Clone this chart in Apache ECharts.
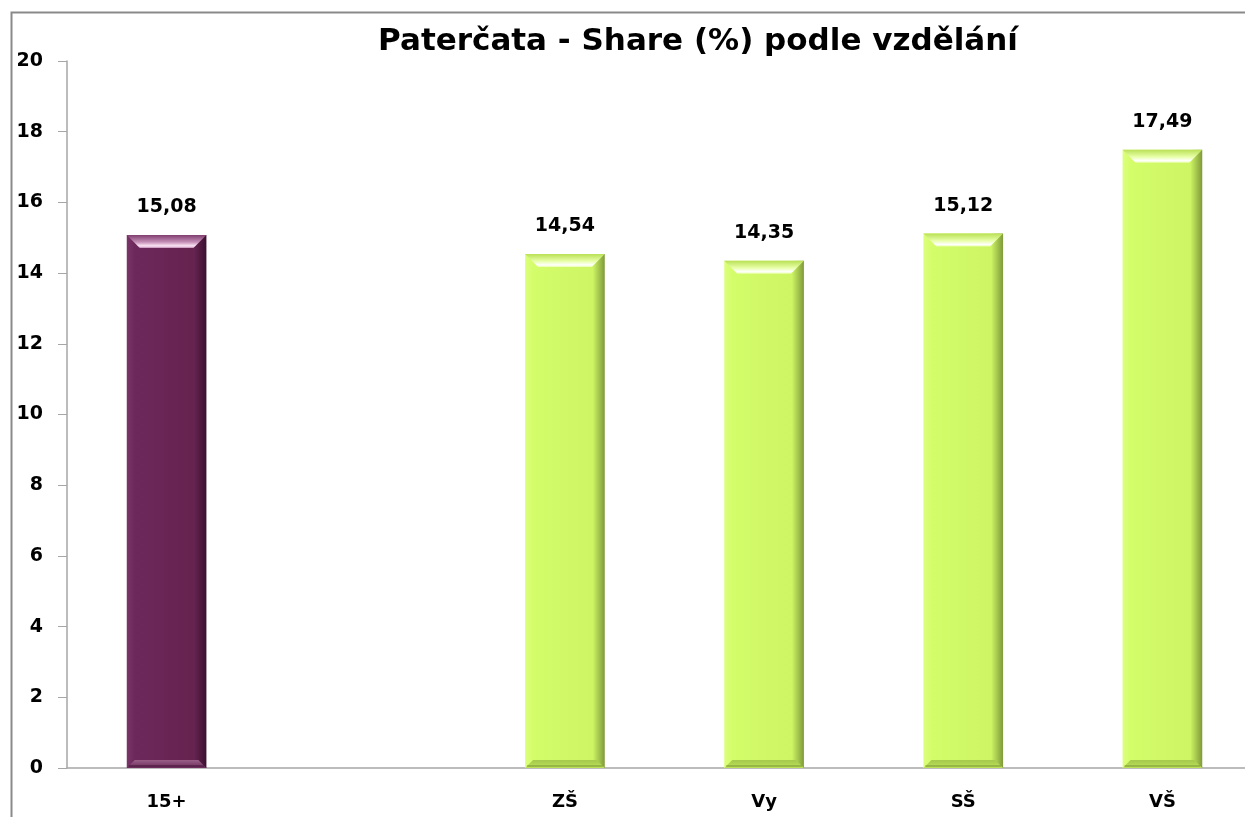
<!DOCTYPE html>
<html>
<head>
<meta charset="utf-8">
<script src="https://cdn.jsdelivr.net/npm/echarts@6/dist/echarts.min.js"></script>
<style>
    html, body { margin: 0; padding: 0; background: #fff; overflow: hidden; }
    /* plot runs past the right edge of the window, as in the original */
    #chart { width: 1262px; height: 817px; }
</style>
</head>
<body>
<div id="chart"></div>
<script>
// data
var categories = ['15+', '', 'ZŠ', 'Vy', 'SŠ', 'VŠ'];
var shareValues = [15.08, null, 14.54, 14.35, 15.12, 17.49];
var yTicks = [0, 2, 4, 6, 8, 10, 12, 14, 16, 18, 20];

// colour sets for the two kinds of bars
var purpleSet = {
    main: ['#7a3469', '#6c285b', '#65234f', '#3a1030'],
    top: ['#7e3c6d', '#c58fb7', '#fde8f6'],
    bottom: ['#6a2a5a', '#9a6088'],
    edge: '#3a1030'
};
var greenSet = {
    main: ['#dcff7c', '#d4fd6a', '#cdf564', '#7f9a3a'],
    top: ['#b9e055', '#e8ffa8', '#ffffff'],
    bottom: ['#bde25a', '#a4c94c'],
    edge: '#6f8a30'
};

function colSet(idx) {
    return idx === 0 ? purpleSet : greenSet;
}

function hGrad(c) {
    return new echarts.graphic.LinearGradient(0, 0, 1, 0, [
        {offset: 0, color: c[0]},
        {offset: 0.1, color: c[1]},
        {offset: 0.85, color: c[2]},
        {offset: 1, color: c[3]}
    ]);
}

var barData = shareValues.map(function (v, i) {
    return {
        value: v,
        itemStyle: {color: hGrad(colSet(i).main)}
    };
});

// bevel drawn over each bar
function renderBevel(params, api) {
    var v = api.value(1);
    if (v == null || isNaN(v)) return;
    var idx = params.dataIndex;
    var cs = colSet(idx);
    var topPt = api.coord([api.value(0), v]);
    var basePt = api.coord([api.value(0), 0]);
    var bw = api.size([1, 0])[0] * 0.4;
    var x = topPt[0] - bw / 2;
    var y = topPt[1];
    var h = basePt[1] - y;
    var b = 13, bb = 8;
    return {
        type: 'group',
        children: [{
            type: 'polygon',
            shape: {points: [[x, y], [x + bw, y], [x + bw - b, y + b], [x + b, y + b]]},
            style: {
                fill: new echarts.graphic.LinearGradient(0, 0, 0, 1, [
                    {offset: 0, color: cs.top[0]},
                    {offset: 0.55, color: cs.top[1]},
                    {offset: 0.85, color: cs.top[2]},
                    {offset: 1, color: cs.top[1]}
                ])
            }
        }, {
            type: 'polygon',
            shape: {points: [[x, y + h], [x + bw, y + h], [x + bw - bb, y + h - bb], [x + bb, y + h - bb]]},
            style: {
                fill: new echarts.graphic.LinearGradient(0, 0, 0, 1, [
                    {offset: 0, color: cs.bottom[1]},
                    {offset: 1, color: cs.bottom[0]}
                ])
            }
        }, {
            type: 'line',
            shape: {x1: x + 2, y1: y + h - 2, x2: x + bw - 2, y2: y + h - 2},
            style: {stroke: cs.edge, lineWidth: 1.5, opacity: 0.6}
        }]
    };
}

var myChart = echarts.init(document.getElementById('chart'));
var option = {
    animation: false,
    title: {
        text: 'Paterčata - Share (%) podle vzdělání',
        left: 693,
        textAlign: 'center',
        top: 21,
        textStyle: {
            fontFamily: 'DejaVu Sans',
            fontWeight: 'bold',
            fontSize: 31,
            color: '#000'
        }
    },
    graphic: [{
        type: 'rect',
        shape: {x: 11.5, y: 12.5, width: 1400, height: 1000},
        style: {fill: 'none', stroke: '#8a8a8a', lineWidth: 2},
        silent: true
    }],
    grid: {
        left: 67,
        right: 0,
        top: 61,
        bottom: 49,
        containLabel: false
    },
    xAxis: {
        type: 'category',
        data: categories,
        axisLine: {lineStyle: {color: '#a6a6a6', width: 1.5}},
        axisTick: {length: 9, lineStyle: {color: '#a6a6a6'}},
        axisLabel: {
            margin: 25,
            fontFamily: 'DejaVu Sans',
            fontWeight: 'bold',
            fontSize: 18,
            color: '#000'
        }
    },
    yAxis: {
        type: 'value',
        min: 0,
        max: 20,
        interval: 2,
        axisLine: {show: true, lineStyle: {color: '#a6a6a6', width: 1.5}},
        axisTick: {show: true, length: 9, lineStyle: {color: '#a6a6a6'}},
        splitLine: {show: false},
        axisLabel: {
            margin: 24,
            fontFamily: 'DejaVu Sans',
            fontWeight: 'bold',
            fontSize: 19,
            color: '#000',
            formatter: function (v) {
                return yTicks.indexOf(v) >= 0 ? String(v) : '';
            }
        }
    },
    series: [{
        type: 'bar',
        barWidth: '40%',
        data: barData,
        label: {
            show: true,
            position: 'top',
            distance: 18,
            fontFamily: 'DejaVu Sans',
            fontWeight: 'bold',
            fontSize: 19,
            color: '#000',
            formatter: function (p) {
                return p.value == null ? '' : p.value.toFixed(2).replace('.', ',');
            }
        }
    }, {
        type: 'custom',
        renderItem: renderBevel,
        silent: true,
        data: shareValues.map(function (v, i) { return [i, v]; }),
        z: 3
    }]
};
myChart.setOption(option);
window.addEventListener("resize", function () {
    myChart.resize();
});
</script>
</body>
</html>
